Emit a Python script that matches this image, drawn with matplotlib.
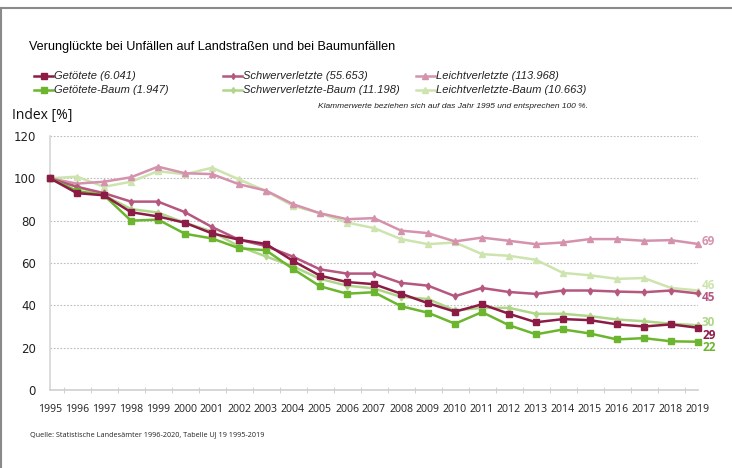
import numpy as np
import matplotlib.pyplot as plt
from matplotlib.lines import Line2D

plt.rcParams['font.family'] = ['Open Sans', 'DejaVu Sans']
schmal = ['Liberation Sans', 'DejaVu Sans']

jahre = [str(j) for j in range(1995, 2020)]

getoetete = [100, 93, 92, 84, 82, 79, 74, 71, 69, 61, 54, 51, 50, 45.5, 41, 37, 40.5, 36, 32, 33.5, 33, 31, 30, 31, 29.4]
schwer = [100, 96, 93, 89, 89, 84, 77, 71, 68, 63, 57, 55, 55, 50.6, 49.3, 44.3, 48.2, 46.3, 45.4, 47, 47, 46.5, 46.2, 47, 45.6]
leicht = [100, 97.5, 98.4, 100.5, 105.5, 102.4, 102, 97.2, 94.2, 87.8, 83.5, 80.7, 81.2, 75.3, 74.1, 70.2, 72, 70.5, 68.9, 69.7, 71.3, 71.3, 70.5, 70.8, 69]
getoetete_baum = [100, 94, 92, 80, 80.5, 73.8, 71.6, 67, 66, 57.2, 49, 45.5, 46.2, 39.6, 36.5, 31.3, 36.8, 30.6, 26.3, 28.6, 26.7, 23.9, 24.5, 23, 22.8]
schwer_baum = [100, 96, 92, 85.5, 83.8, 79, 74.9, 67.8, 63.1, 58.4, 52.5, 49.3, 48, 44, 43, 37.6, 38.8, 38.8, 36, 36, 34.9, 33.3, 32.5, 31.3, 30.6]
leicht_baum = [100, 100.8, 96, 98.4, 103.4, 101.9, 105, 99.5, 94, 87, 83.5, 79.1, 76.5, 71.3, 68.9, 69.7, 64.2, 63.4, 61.5, 55.3, 54.2, 52.5, 52.9, 48.2, 47]

namen_reihen = ['Getötete (6.041)', 'Getötete-Baum (1.947)', 'Schwerverletzte (55.653)',
                'Schwerverletzte-Baum (11.198)', 'Leichtverletzte (113.968)', 'Leichtverletzte-Baum (10.663)']
endwerte = ['29', '22', '45', '30', '69', '46']

farben = ['#8c1c45', '#6cb52f', '#b5577f', '#b0d68a', '#d592ad', '#cde4ae']
marker = ['s', 's', 'd', 'd', '^', '^']
msize = [5, 5, 3.5, 3.5, 4.5, 4.5]
reihen = [getoetete, getoetete_baum, schwer, schwer_baum, leicht, leicht_baum]

fig = plt.figure(figsize=(7.32, 4.68), dpi=100)
ax = fig.add_axes([50/732, 78/468, 648/732, 254/468])

x = np.arange(len(jahre))
# hellere Reihen zuerst zeichnen
for i in [5, 4, 3, 2, 1, 0]:
    ax.plot(x, reihen[i], color=farben[i], marker=marker[i], markersize=msize[i],
            linewidth=1.8, clip_on=False, zorder=3)

ax.set_xlim(0, len(jahre) - 1)
ax.set_ylim(0, 120)
ax.set_yticks(range(0, 121, 20))
ax.set_xticks(x)
ax.set_xticklabels(jahre, fontsize=7.6, color='#222222')
ax.set_xticks(x[:-1] + 0.5, minor=True)
ax.tick_params(axis='x', which='major', length=0, pad=10)
ax.tick_params(axis='x', which='minor', length=4, direction='inout', color='#c8c8c8')
ax.tick_params(axis='y', length=0, pad=10, labelcolor='#222222')
for lab in ax.get_yticklabels():
    lab.set_family(['DejaVu Sans'])
    lab.set_fontsize(8.5)

ax.grid(axis='y', linestyle=(0, (1.5, 1.5)), color='#bdbdbd', linewidth=0.8)
for s in ['top', 'right']:
    ax.spines[s].set_visible(False)
ax.spines['left'].set_color('#d6d6d6')
ax.spines['bottom'].set_color('#cfcfcf')
ax.spines['left'].set_linewidth(1.2)
ax.spines['bottom'].set_linewidth(1.2)

# Endwerte rechts
end_y = {'69': 70, '46': 49.5, '45': 43.5, '30': 31.8, '29': 25.8, '22': 20}
for i, txt in enumerate(endwerte):
    ax.text(len(jahre) - 1 + 0.15, end_y[txt], txt, color=farben[i], fontsize=8.5,
            fontweight='bold', va='center', ha='left', clip_on=False)

# Titel und Texte
fig.text(29/732, 1 - 47/468, 'Verunglückte bei Unfällen auf Landstraßen und bei Baumunfällen',
         fontsize=9.1, family=schmal, va='center', ha='left', color='#000000')
fig.text(12/732, 1 - 116/468, 'Index [%]', fontsize=10, va='center', ha='left', color='#111111')
fig.text(318/732, 1 - 107/468, 'Klammerwerte beziehen sich auf das Jahr 1995 und entsprechen 100 %.',
         fontsize=6.0, family=schmal, style='italic', va='center', ha='left', color='#222222')
fig.text(30/732, 1 - 435/468, 'Quelle: Statistische Landesämter 1996-2020, Tabelle UJ 19 1995-2019',
         fontsize=5.2, va='center', ha='left', color='#222222')

# Legende
spalten_x = [34, 223, 416]
zeilen_y = [76, 90]
for k, i in enumerate([0, 2, 4, 1, 3, 5]):
    sx = spalten_x[k % 3] / 732
    sy = 1 - zeilen_y[k // 3] / 468
    fig.add_artist(Line2D([sx, sx + 19/732], [sy, sy], color=farben[i], linewidth=1.8,
                          transform=fig.transFigure))
    fig.add_artist(Line2D([sx + 9.5/732], [sy], color=farben[i], marker=marker[i],
                          markersize=msize[i] - 0.5, transform=fig.transFigure))
    fig.text(sx + 20/732, sy, namen_reihen[i], fontsize=8.0, family=schmal, style='italic',
             va='center', ha='left', color='#222222')

# grauer Rahmen oben und links
fig.add_artist(Line2D([0, 1], [1 - 8/468, 1 - 8/468], color='#8a8a8a', linewidth=1.5,
                      transform=fig.transFigure))
fig.add_artist(Line2D([1/732, 1/732], [0, 1 - 8/468], color='#8a8a8a', linewidth=1.5,
                      transform=fig.transFigure))

fig.savefig('out.png', dpi=100)
